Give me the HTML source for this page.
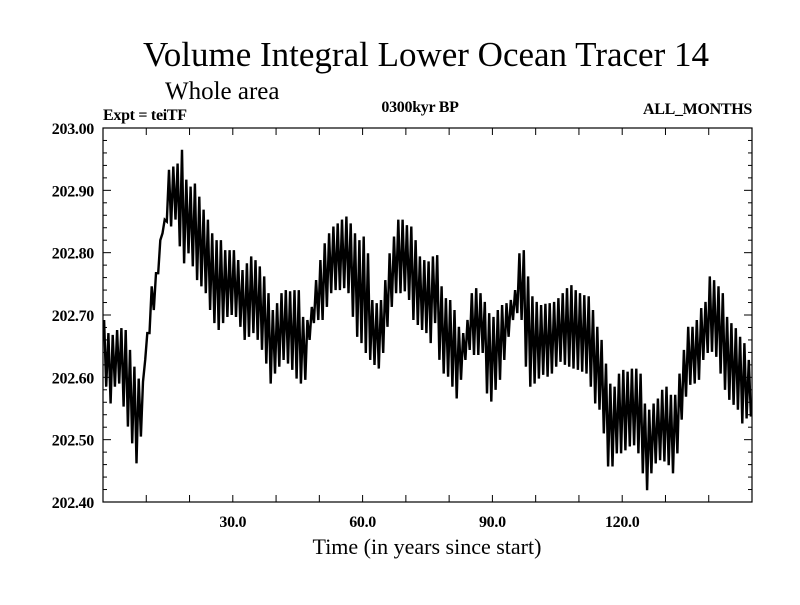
<!DOCTYPE html>
<html><head><meta charset="utf-8"><style>
html,body{margin:0;padding:0;background:#fff}
svg text{font-family:"Liberation Serif",serif;fill:#000}
.lab{font-weight:bold;letter-spacing:-0.3px}
</style></head><body>
<svg id="chart" width="800" height="600" viewBox="0 0 800 600" xmlns="http://www.w3.org/2000/svg">
<text x="426" y="66" font-size="35" text-anchor="middle">Volume Integral Lower Ocean Tracer 14</text>
<text x="165" y="99" font-size="25">Whole area</text>
<text class="lab" x="103" y="120" font-size="16">Expt = teiTF</text>
<text class="lab" x="420" y="112" font-size="16" text-anchor="middle">0300kyr BP</text>
<text class="lab" x="752" y="114" font-size="16" text-anchor="end">ALL_MONTHS</text>
<text x="427" y="554" font-size="22" text-anchor="middle">Time (in years since start)</text>
<g id="axes"></g>
<path id="series" fill="none" stroke="#000" stroke-width="2.4" stroke-linejoin="miter"></path>
<rect x="103" y="128" width="649" height="374" fill="none" stroke="#000" stroke-width="1.2"/>
</svg>
<script>
const yearHigh=[202.692,202.671,202.668,202.676,202.679,202.676,202.644,202.617,202.598,202.593,
202.671,202.746,202.767,202.820,202.853,202.933,202.938,202.943,202.965,202.917,
202.906,202.911,202.890,202.869,202.853,202.831,202.820,202.820,202.804,202.804,
202.804,202.788,202.772,202.783,202.794,202.788,202.778,202.762,202.735,202.708,
202.719,202.735,202.740,202.738,202.740,202.740,202.697,202.692,202.713,202.756,
202.788,202.815,202.831,202.842,202.847,202.853,202.858,202.847,202.831,202.820,
202.826,202.799,202.724,202.719,202.724,202.756,202.799,202.826,202.853,202.853,
202.844,202.842,202.820,202.794,202.788,202.786,202.794,202.796,202.746,202.727,
202.724,202.708,202.681,202.671,202.692,202.735,202.743,202.735,202.721,202.703,
202.697,202.708,202.716,202.719,202.724,202.740,202.799,202.804,202.762,202.730,
202.721,202.716,202.718,202.719,202.721,202.727,202.735,202.743,202.748,202.740,
202.735,202.732,202.730,202.708,202.681,202.660,202.622,202.590,202.585,202.606,
202.612,202.609,202.614,202.614,202.606,202.558,202.548,202.558,202.566,202.580,
202.585,202.572,202.572,202.606,202.644,202.681,202.681,202.692,202.711,202.721,
202.762,202.756,202.746,202.735,202.697,202.687,202.679,202.665,202.655,202.628,202.622];
const yearLow=[202.617,202.585,202.558,202.585,202.590,202.553,202.521,202.494,202.462,202.505,
202.628,202.671,202.708,202.767,202.831,202.850,202.842,202.853,202.810,202.783,
202.799,202.778,202.756,202.746,202.735,202.708,202.687,202.676,202.687,202.697,
202.700,202.697,202.681,202.660,202.665,202.671,202.660,202.644,202.622,202.590,
202.606,202.617,202.628,202.622,202.612,202.598,202.590,202.596,202.660,202.687,
202.692,202.692,202.713,202.735,202.740,202.740,202.743,202.735,202.697,202.665,
202.655,202.639,202.628,202.620,202.614,202.639,202.681,202.713,202.735,202.735,
202.738,202.724,202.692,202.684,202.676,202.671,202.655,202.687,202.628,202.606,
202.601,202.585,202.566,202.596,202.628,202.644,202.636,202.636,202.639,202.574,
202.561,202.580,202.596,202.628,202.665,202.692,202.703,202.692,202.617,202.585,
202.590,202.598,202.604,202.601,202.606,202.617,202.625,202.620,202.617,202.614,
202.612,202.609,202.606,202.585,202.558,202.548,202.510,202.457,202.457,202.478,
202.478,202.483,202.489,202.491,202.478,202.446,202.419,202.446,202.462,202.467,
202.465,202.459,202.446,202.478,202.532,202.569,202.588,202.590,202.596,202.628,
202.639,202.641,202.633,202.606,202.580,202.564,202.556,202.548,202.526,202.534,202.537];
const xTickLabels=["30.0","60.0","90.0","120.0"];
const xTickLabelYears=[30,60,90,120];
const yTickLabels=["202.40","202.50","202.60","202.70","202.80","202.90","203.00"];
const yTickValues=[202.4,202.5,202.6,202.7,202.8,202.9,203.0];

const X0=103,X1=752,Y0=502,Y1=128,XMIN=0,XMAX=150,YMIN=202.4,YMAX=203.0;
function xs(t){return X0+(t-XMIN)/(XMAX-XMIN)*(X1-X0);}
function ys(v){return Y0-(v-YMIN)/(YMAX-YMIN)*(Y0-Y1);}
const NS="http://www.w3.org/2000/svg";
const axes=document.getElementById('axes');
function line(x1,y1,x2,y2,name){
  const l=document.createElementNS(NS,'line');
  l.setAttribute('x1',x1);l.setAttribute('y1',y1);l.setAttribute('x2',x2);l.setAttribute('y2',y2);
  l.setAttribute('stroke','#000');l.setAttribute('stroke-width','1');
  
  
  axes.appendChild(l);
}
function text(x,y,s,anchor,name){
  const t=document.createElementNS(NS,'text');
  t.setAttribute('x',x);t.setAttribute('y',y);t.setAttribute('font-size','16');
  t.setAttribute('class','lab');
  t.setAttribute('text-anchor',anchor);t.textContent=s;
  
  
  axes.appendChild(t);
}
for(let t=10;t<150;t+=10){
  const x=xs(t);
  line(x,Y0,x,Y0-7,'x-tick');
  line(x,Y1,x,Y1+7,'x-tick-top');
}
for(let i=0;i<=30;i++){
  const v=YMIN+i*0.02, y=ys(v), major=(i%5===0);
  const len=major?8:4;
  line(X0,y,X0+len,y,'y-tick');
  line(X1,y,X1-len,y,'y-tick-right');
}
xTickLabels.forEach((s,i)=>text(xs(xTickLabelYears[i]),527,s,'middle','x-tick-label'));
yTickLabels.forEach((s,i)=>text(94,ys(yTickValues[i])+6,s,'end','y-tick-label'));

let d='';
for(let i=0;i<yearHigh.length;i++){
  const tl=i-0.25, th=i+0.25;
  if(tl>=XMIN) d+=(d?'L':'M')+xs(tl).toFixed(1)+','+ys(yearLow[i]).toFixed(1);
  if(th<=XMAX) d+=(d?'L':'M')+xs(th).toFixed(1)+','+ys(yearHigh[i]).toFixed(1);
}
document.getElementById('series').setAttribute('d',d);
</script>
</body></html>
